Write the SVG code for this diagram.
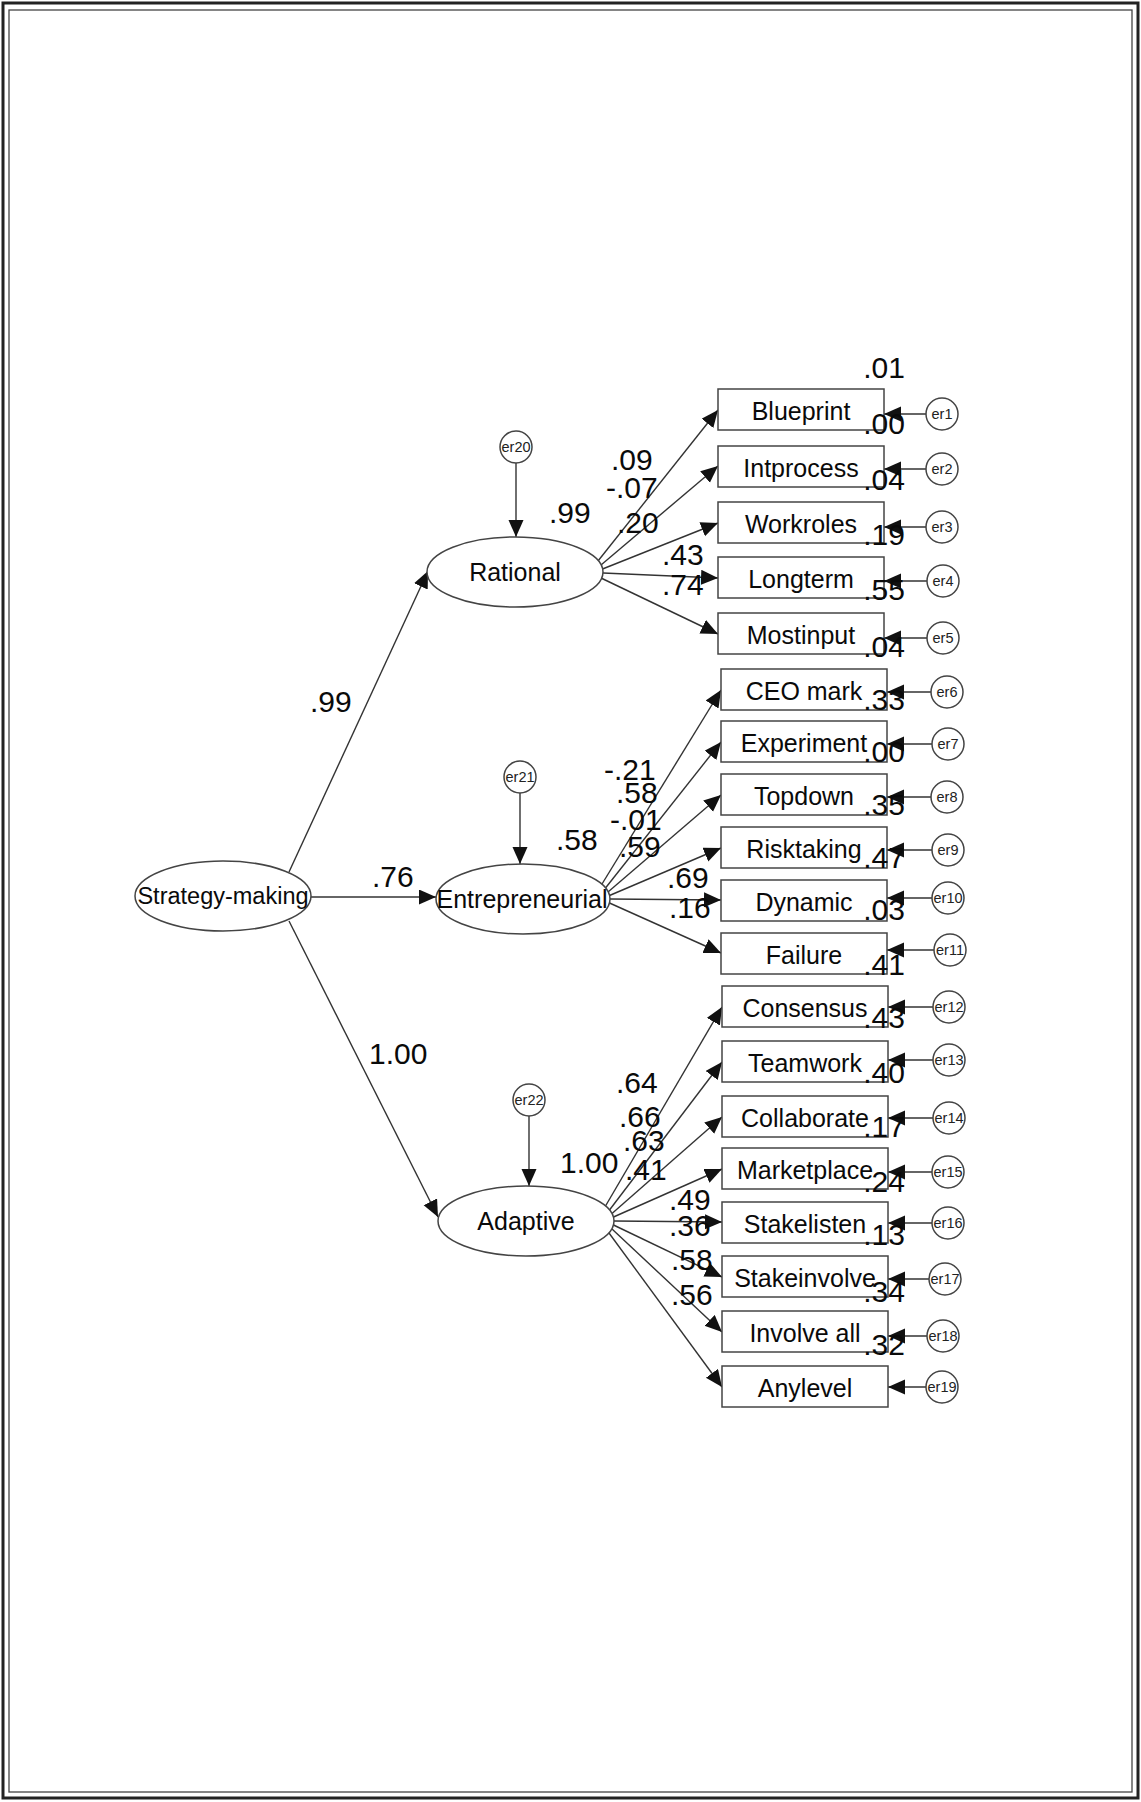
<svg xmlns="http://www.w3.org/2000/svg" width="1141" height="1802" viewBox="0 0 1141 1802">
<style>
.bg{fill:#fff}
.frame1{fill:none;stroke:#222;stroke-width:3}
.frame2{fill:none;stroke:#444;stroke-width:1.3}
.shape{fill:#fff;stroke:#444;stroke-width:1.5}
.con{stroke:#333;stroke-width:1.4;fill:none;marker-end:url(#ah)}
.lbl{font-family:"Liberation Sans",Arial,sans-serif;font-size:25px;fill:#0a0a0a;text-anchor:middle}
.lbls{font-family:"Liberation Sans",Arial,sans-serif;font-size:23.5px;fill:#0a0a0a;text-anchor:middle}
.err{font-family:"Liberation Sans",Arial,sans-serif;font-size:14.5px;fill:#222;text-anchor:middle}
.val{font-family:"Liberation Sans",Arial,sans-serif;font-size:30px;fill:#0a0a0a}
.res{font-family:"Liberation Sans",Arial,sans-serif;font-size:30px;fill:#0a0a0a;text-anchor:end}
</style>
<defs>
<marker id="ah" markerUnits="userSpaceOnUse" markerWidth="18" markerHeight="16" refX="17" refY="7.5" orient="auto">
<path d="M0,0 L17,7.5 L0,15 z" fill="#111"/>
</marker>
</defs>
<rect class="bg" x="0" y="0" width="1141" height="1802"/>
<rect class="frame1" x="3" y="3" width="1135" height="1795"/>
<rect class="frame2" x="9" y="10" width="1123" height="1782"/>

<g id="connectors">
<line class="con" x1="289" y1="872" x2="428" y2="571"/>
<line class="con" x1="311" y1="897" x2="436" y2="897"/>
<line class="con" x1="289" y1="921" x2="438" y2="1217"/>
<line class="con" x1="516" y1="463" x2="516" y2="537"/>
<line class="con" x1="520" y1="793" x2="520" y2="864"/>
<line class="con" x1="529" y1="1116" x2="529" y2="1186"/>
<line class="con" x1="598" y1="561" x2="718" y2="410"/>
<line class="con" x1="601" y1="565" x2="718" y2="466"/>
<line class="con" x1="602.5" y1="569" x2="718" y2="523"/>
<line class="con" x1="603" y1="573" x2="718" y2="578"/>
<line class="con" x1="601" y1="578" x2="718" y2="634"/>
<line class="con" x1="602" y1="884" x2="721" y2="690"/>
<line class="con" x1="605.5" y1="888" x2="721" y2="742"/>
<line class="con" x1="608" y1="892" x2="721" y2="795"/>
<line class="con" x1="609.5" y1="895.5" x2="721" y2="848"/>
<line class="con" x1="610" y1="899" x2="721" y2="900"/>
<line class="con" x1="609.5" y1="903" x2="721" y2="953"/>
<line class="con" x1="605.5" y1="1206" x2="722" y2="1007"/>
<line class="con" x1="609.5" y1="1210" x2="722" y2="1062"/>
<line class="con" x1="612" y1="1213.5" x2="722" y2="1117"/>
<line class="con" x1="613.5" y1="1217" x2="722" y2="1169"/>
<line class="con" x1="614" y1="1221" x2="722" y2="1222"/>
<line class="con" x1="613.5" y1="1225" x2="722" y2="1277"/>
<line class="con" x1="612" y1="1229" x2="722" y2="1332"/>
<line class="con" x1="609" y1="1233" x2="722" y2="1387"/>
<line class="con" x1="926" y1="414" x2="884" y2="414"/>
<line class="con" x1="926" y1="469" x2="884" y2="469"/>
<line class="con" x1="926" y1="527" x2="884" y2="527"/>
<line class="con" x1="927" y1="581" x2="884" y2="581"/>
<line class="con" x1="927" y1="638" x2="884" y2="638"/>
<line class="con" x1="931" y1="692" x2="887" y2="692"/>
<line class="con" x1="932" y1="744" x2="887" y2="744"/>
<line class="con" x1="931" y1="797" x2="887" y2="797"/>
<line class="con" x1="932" y1="850" x2="887" y2="850"/>
<line class="con" x1="932" y1="898" x2="887" y2="898"/>
<line class="con" x1="934" y1="950" x2="887" y2="950"/>
<line class="con" x1="933" y1="1007" x2="888" y2="1007"/>
<line class="con" x1="933" y1="1060" x2="888" y2="1060"/>
<line class="con" x1="933" y1="1118" x2="888" y2="1118"/>
<line class="con" x1="932" y1="1172" x2="888" y2="1172"/>
<line class="con" x1="932" y1="1223" x2="888" y2="1223"/>
<line class="con" x1="929" y1="1279" x2="888" y2="1279"/>
<line class="con" x1="927" y1="1336" x2="888" y2="1336"/>
<line class="con" x1="926" y1="1387" x2="888" y2="1387"/>
</g>

<g id="strategy-making"><ellipse class="shape" cx="223" cy="896" rx="88" ry="35"/><text class="lbls" x="223" y="904">Strategy-making</text></g>
<g id="rational"><ellipse class="shape" cx="515" cy="572" rx="88" ry="35"/><text class="lbl" x="515" y="581">Rational</text></g>
<g id="entrepreneurial"><ellipse class="shape" cx="523" cy="899" rx="87" ry="35"/><text class="lbl" x="522" y="908">Entrepreneurial</text></g>
<g id="adaptive"><ellipse class="shape" cx="526" cy="1221" rx="88" ry="35"/><text class="lbl" x="526" y="1230">Adaptive</text></g>

<g id="er20"><circle class="shape" cx="516" cy="447" r="16"/><text class="err" x="516" y="452">er20</text></g>
<g id="er21"><circle class="shape" cx="520" cy="777" r="16"/><text class="err" x="520" y="782">er21</text></g>
<g id="er22"><circle class="shape" cx="529" cy="1100" r="16"/><text class="err" x="529" y="1105">er22</text></g>

<g id="blueprint"><rect class="shape" x="718" y="389" width="166" height="41"/><text class="lbl" x="801" y="420">Blueprint</text></g>
<g id="intprocess"><rect class="shape" x="718" y="446" width="166" height="41"/><text class="lbl" x="801" y="477">Intprocess</text></g>
<g id="workroles"><rect class="shape" x="718" y="502" width="166" height="41"/><text class="lbl" x="801" y="533">Workroles</text></g>
<g id="longterm"><rect class="shape" x="718" y="557" width="166" height="41"/><text class="lbl" x="801" y="588">Longterm</text></g>
<g id="mostinput"><rect class="shape" x="718" y="613" width="166" height="41"/><text class="lbl" x="801" y="644">Mostinput</text></g>

<g id="ceo-mark"><rect class="shape" x="721" y="669" width="166" height="41"/><text class="lbl" x="804" y="700">CEO mark</text></g>
<g id="experiment"><rect class="shape" x="721" y="721" width="166" height="41"/><text class="lbl" x="804" y="752">Experiment</text></g>
<g id="topdown"><rect class="shape" x="721" y="774" width="166" height="41"/><text class="lbl" x="804" y="805">Topdown</text></g>
<g id="risktaking"><rect class="shape" x="721" y="827" width="166" height="41"/><text class="lbl" x="804" y="858">Risktaking</text></g>
<g id="dynamic"><rect class="shape" x="721" y="880" width="166" height="41"/><text class="lbl" x="804" y="911">Dynamic</text></g>
<g id="failure"><rect class="shape" x="721" y="933" width="166" height="41"/><text class="lbl" x="804" y="964">Failure</text></g>

<g id="consensus"><rect class="shape" x="722" y="986" width="166" height="41"/><text class="lbl" x="805" y="1017">Consensus</text></g>
<g id="teamwork"><rect class="shape" x="722" y="1041" width="166" height="41"/><text class="lbl" x="805" y="1072">Teamwork</text></g>
<g id="collaborate"><rect class="shape" x="722" y="1096" width="166" height="41"/><text class="lbl" x="805" y="1127">Collaborate</text></g>
<g id="marketplace"><rect class="shape" x="722" y="1148" width="166" height="41"/><text class="lbl" x="805" y="1179">Marketplace</text></g>
<g id="stakelisten"><rect class="shape" x="722" y="1202" width="166" height="41"/><text class="lbl" x="805" y="1233">Stakelisten</text></g>
<g id="stakeinvolve"><rect class="shape" x="722" y="1256" width="166" height="41"/><text class="lbl" x="805" y="1287">Stakeinvolve</text></g>
<g id="involve-all"><rect class="shape" x="722" y="1311" width="166" height="41"/><text class="lbl" x="805" y="1342">Involve all</text></g>
<g id="anylevel"><rect class="shape" x="722" y="1366" width="166" height="41"/><text class="lbl" x="805" y="1397">Anylevel</text></g>

<g id="er1"><circle class="shape" cx="942" cy="414" r="16"/><text class="err" x="942" y="419">er1</text></g>
<g id="er2"><circle class="shape" cx="942" cy="469" r="16"/><text class="err" x="942" y="474">er2</text></g>
<g id="er3"><circle class="shape" cx="942" cy="527" r="16"/><text class="err" x="942" y="532">er3</text></g>
<g id="er4"><circle class="shape" cx="943" cy="581" r="16"/><text class="err" x="943" y="586">er4</text></g>
<g id="er5"><circle class="shape" cx="943" cy="638" r="16"/><text class="err" x="943" y="643">er5</text></g>
<g id="er6"><circle class="shape" cx="947" cy="692" r="16"/><text class="err" x="947" y="697">er6</text></g>
<g id="er7"><circle class="shape" cx="948" cy="744" r="16"/><text class="err" x="948" y="749">er7</text></g>
<g id="er8"><circle class="shape" cx="947" cy="797" r="16"/><text class="err" x="947" y="802">er8</text></g>
<g id="er9"><circle class="shape" cx="948" cy="850" r="16"/><text class="err" x="948" y="855">er9</text></g>
<g id="er10"><circle class="shape" cx="948" cy="898" r="16"/><text class="err" x="948" y="903">er10</text></g>
<g id="er11"><circle class="shape" cx="950" cy="950" r="16"/><text class="err" x="950" y="955">er11</text></g>
<g id="er12"><circle class="shape" cx="949" cy="1007" r="16"/><text class="err" x="949" y="1012">er12</text></g>
<g id="er13"><circle class="shape" cx="949" cy="1060" r="16"/><text class="err" x="949" y="1065">er13</text></g>
<g id="er14"><circle class="shape" cx="949" cy="1118" r="16"/><text class="err" x="949" y="1123">er14</text></g>
<g id="er15"><circle class="shape" cx="948" cy="1172" r="16"/><text class="err" x="948" y="1177">er15</text></g>
<g id="er16"><circle class="shape" cx="948" cy="1223" r="16"/><text class="err" x="948" y="1228">er16</text></g>
<g id="er17"><circle class="shape" cx="945" cy="1279" r="16"/><text class="err" x="945" y="1284">er17</text></g>
<g id="er18"><circle class="shape" cx="943" cy="1336" r="16"/><text class="err" x="943" y="1341">er18</text></g>
<g id="er19"><circle class="shape" cx="942" cy="1387" r="16"/><text class="err" x="942" y="1392">er19</text></g>

<g id="path-values">
<text class="val" x="310" y="712">.99</text>
<text class="val" x="372" y="887">.76</text>
<text class="val" x="369" y="1064">1.00</text>
<text class="val" x="549" y="523">.99</text>
<text class="val" x="556" y="850">.58</text>
<text class="val" x="560" y="1173">1.00</text>
<text class="val" x="611" y="470">.09</text>
<text class="val" x="606" y="498">-.07</text>
<text class="val" x="617" y="533">.20</text>
<text class="val" x="662" y="565">.43</text>
<text class="val" x="662" y="595">.74</text>
<text class="val" x="604" y="780">-.21</text>
<text class="val" x="616" y="803">.58</text>
<text class="val" x="610" y="830">-.01</text>
<text class="val" x="619" y="857">.59</text>
<text class="val" x="667" y="888">.69</text>
<text class="val" x="669" y="918">.16</text>
<text class="val" x="616" y="1093">.64</text>
<text class="val" x="619" y="1127">.66</text>
<text class="val" x="623" y="1151">.63</text>
<text class="val" x="625" y="1180">.41</text>
<text class="val" x="669" y="1210">.49</text>
<text class="val" x="669" y="1236">.36</text>
<text class="val" x="671" y="1270">.58</text>
<text class="val" x="671" y="1305">.56</text>
</g>
<g id="r-squared">
<text class="res" x="905" y="378">.01</text>
<text class="res" x="905" y="434">.00</text>
<text class="res" x="905" y="490">.04</text>
<text class="res" x="905" y="545">.19</text>
<text class="res" x="905" y="600">.55</text>
<text class="res" x="905" y="657">.04</text>
<text class="res" x="905" y="710">.33</text>
<text class="res" x="905" y="762">.00</text>
<text class="res" x="905" y="815">.35</text>
<text class="res" x="905" y="868">.47</text>
<text class="res" x="905" y="920">.03</text>
<text class="res" x="905" y="975">.41</text>
<text class="res" x="905" y="1028">.43</text>
<text class="res" x="905" y="1083">.40</text>
<text class="res" x="905" y="1137">.17</text>
<text class="res" x="905" y="1192">.24</text>
<text class="res" x="905" y="1245">.13</text>
<text class="res" x="905" y="1302">.34</text>
<text class="res" x="905" y="1355">.32</text>
</g>
</svg>
